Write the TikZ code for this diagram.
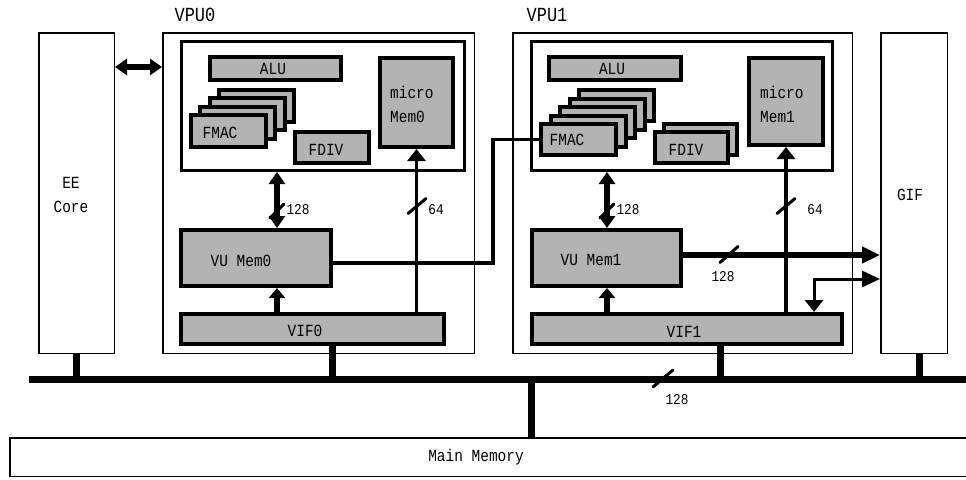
\documentclass[tikz,border=0pt]{standalone}
\usepackage{fontspec}
\setmainfont[FakeStretch=0.85]{Liberation Mono}
\usetikzlibrary{arrows.meta}
\definecolor{boxgray}{RGB}{179,179,179}
\begin{document}
\begin{tikzpicture}[x=1pt,y=-1pt,
  txt/.style={font=\fontsize{17}{24}\selectfont, inner sep=0pt},
  lbl/.style={font=\fontsize{15}{15}\selectfont, inner sep=0pt},
  ttl/.style={font=\fontsize{20}{22}\selectfont, inner sep=0pt},
  sz/.style 2 args={minimum width=#1pt, minimum height=#2pt},
  outerbox/.style={draw, line width=1.5pt, fill=white, inner sep=0pt},
  innerbox/.style={draw, line width=3pt, inner sep=0pt},
  gbox/.style={draw, line width=4pt, fill=boxgray, inner sep=0pt},
  dblarrow/.style={line width=6pt, arrows={Triangle[length=12pt,width=16pt]-Triangle[length=12pt,width=16pt]}},
  uparrow/.style={line width=6pt, arrows={-Triangle[length=10pt,width=16pt]}},
  arrsf/.style={line width=3.5pt, arrows={-Triangle[length=12pt,width=18pt]}},
  gifarrow/.style={line width=6pt, arrows={-Triangle[length=18pt,width=16pt]}},
  thinboth/.style={line width=3pt, arrows={Triangle[length=12pt,width=18pt]-Triangle[length=18pt,width=16pt]}},
  link/.style={line width=3.5pt},
  busline/.style={line width=7pt},
  drop/.style={line width=7pt},
  slash/.style={line width=3pt, line cap=round},
]
\useasboundingbox (0,0) rectangle (966,479);

% ---------- EE Core and GIF ----------
\node[outerbox, sz={75.5}{320.5}] (ee) at (76.5,193) {};
\node[txt, align=center] (eet) at (71,194.5) {EE\\Core};
\node[outerbox, sz={66.5}{320.5}] (gif) at (914,193) {};
\node[txt] (gift) at (910,195) {GIF};

% ---------- VPU0 ----------
\node[outerbox, sz={311.5}{320.5}] (vpu0) at (318.5,193) {};
\node[ttl] (vpu0t) at (195,15) {VPU0};
\node[innerbox, sz={283}{129}] (in0) at (323,106) {};
\node[gbox, sz={131}{23}] (alu0) at (275.5,68.5) {};
\node[txt] (alu0t) at (273,69) {ALU};
\node[gbox, sz={75}{32}] (fmac0d) at (256.4,106.1) {};
\node[gbox, sz={75}{32}] (fmac0c) at (247.1,114.4) {};
\node[gbox, sz={75}{32}] (fmac0b) at (237.8,122.7) {};
\node[gbox, sz={75}{32}] (fmac0a) at (228.5,131) {};
\node[txt] (fmac0t) at (220,133) {FMAC};
\node[gbox, sz={74}{31}] (fdiv0) at (332,147.5) {};
\node[txt] (fdiv0t) at (326,150) {FDIV};
\node[gbox, sz={73}{89}] (mm0) at (416.5,102.5) {};
\node[txt, align=left, anchor=west] (mm0t) at (390,104) {micro\\Mem0};
\node[gbox, sz={150}{56}] (vumem0) at (256,258) {};
\node[txt] (vumem0t) at (241,261) {VU Mem0};
\node[gbox, sz={263}{30}] (vif0) at (312.5,329) {};
\node[txt] (vif0t) at (305,331) {VIF0};

% ---------- VPU1 ----------
\node[outerbox, sz={339.5}{320.5}] (vpu1) at (682.5,193) {};
\node[ttl] (vpu1t) at (547,15) {VPU1};
\node[innerbox, sz={301}{129}] (in1) at (682,106) {};
\node[gbox, sz={132}{23}] (alu1) at (615,68.5) {};
\node[txt] (alu1t) at (612,69) {ALU};
\node[gbox, sz={75}{31}] (fmac1e) at (616.5,105.5) {};
\node[gbox, sz={75}{31}] (fmac1d) at (607,114) {};
\node[gbox, sz={75}{31}] (fmac1c) at (597.5,122.5) {};
\node[gbox, sz={75}{31}] (fmac1b) at (588,131) {};
\node[gbox, sz={75}{31}] (fmac1a) at (578.5,139.5) {};
\node[txt] (fmac1t) at (567,140) {FMAC};
\node[gbox, sz={73}{31}] (fdiv1b) at (700.5,139.5) {};
\node[gbox, sz={73}{31}] (fdiv1a) at (691.5,147.5) {};
\node[txt] (fdiv1t) at (686,150) {FDIV};
\node[gbox, sz={74}{87}] (mm1) at (786,101.5) {};
\node[txt, align=left, anchor=west] (mm1t) at (760,104) {micro\\Mem1};
\node[gbox, sz={149}{56}] (vumem1) at (606.5,258) {};
\node[txt] (vumem1t) at (591,260) {VU Mem1};
\node[gbox, sz={310}{30}] (vif1) at (687,329) {};
\node[txt] (vif1t) at (684,332) {VIF1};

% ---------- Main memory and bus ----------
\node[outerbox, sz={964.5}{38.5}] (mainmem) at (492,457) {};
\node[txt] (mainmemt) at (476,457) {Main Memory};
\coordinate (busL) at (29,379);
\coordinate (busR) at (966,379);
\draw[busline] (busL) -- (busR);
\draw[drop] (ee.south) -- (ee.south |- busL);
\draw[drop] (vif0.south -| 332,0) -- (332,379);
\draw[drop] (vif1.south -| 720,0) -- (720,379);
\draw[drop] (gif.south -| 919,0) -- (919,379);
\draw[drop] (mainmem.north -| 531,0) -- (531,379);
\coordinate (sbus) at (663,378.5);
\draw[slash] ([shift={(-10,8.5)}]sbus) -- ([shift={(10,-8.5)}]sbus);
\node[lbl] (lbus) at (677,400) {128};

% ---------- connectors ----------
\draw[dblarrow] (ee.east |- 0,67) -- (vpu0.west |- 0,67);

% VPU0
\draw[dblarrow] (in0.south -| 277,0) -- (vumem0.north -| 277,0);
\draw[uparrow] (vif0.north -| 277,0) -- (vumem0.south -| 277,0);
\draw[arrsf] (vif0.north -| 416.5,0) -- (mm0.south);
\coordinate (s01) at (277,211);
\draw[slash] ([shift={(-7,7)}]s01) -- ([shift={(7,-7)}]s01);
\node[lbl] (l01) at (298,210) {128};
\coordinate (s02) at (417,206);
\draw[slash] ([shift={(-9,7.5)}]s02) -- ([shift={(9,-7.5)}]s02);
\node[lbl] (l02) at (436,210) {64};

% VU Mem0 -> FMAC of VPU1
\draw[link] (vumem0.east |- 0,263) -| (fmac1a.west -| 493,0) -- (fmac1a.west);

% VPU1
\draw[dblarrow] (in1.south -| 607,0) -- (vumem1.north -| 607,0);
\draw[uparrow] (vif1.north -| 607,0) -- (vumem1.south -| 607,0);
\draw[arrsf] (vif1.north -| 786,0) -- (mm1.south);
\coordinate (s11) at (607,211);
\draw[slash] ([shift={(-7,7)}]s11) -- ([shift={(7,-7)}]s11);
\node[lbl] (l11) at (628,210) {128};
\coordinate (s12) at (786,206);
\draw[slash] ([shift={(-9,7.5)}]s12) -- ([shift={(9,-7.5)}]s12);
\node[lbl] (l12) at (815,210) {64};

% VU Mem1 -> GIF, VIF1 <-> GIF
\draw[gifarrow] (vumem1.east |- 0,255) -- (gif.west |- 0,255);
\coordinate (s13) at (729,254.5);
\draw[slash] ([shift={(-9,8)}]s13) -- ([shift={(9,-8)}]s13);
\node[lbl] (l13) at (723,277) {128};
\draw[thinboth] (vif1.north -| 814,0) |- (gif.west |- 0,279);
\end{tikzpicture}
\end{document}
